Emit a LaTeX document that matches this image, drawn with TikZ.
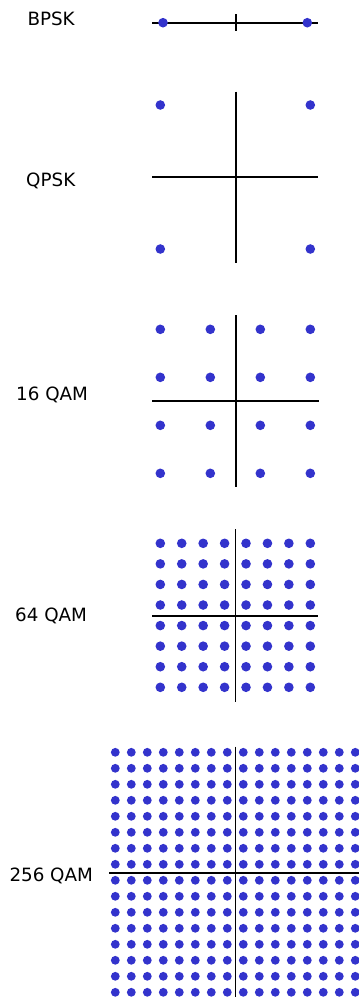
\documentclass[tikz,border=0pt]{standalone}
\usepackage{fontspec}
\setmainfont{DejaVu Sans}
\definecolor{dotblue}{HTML}{3333CC}
\begin{document}
\begin{tikzpicture}[x=1pt,y=-1pt,
  axis/.style={line width=1.8pt,black},
  pt/.style={fill=dotblue},
  lbl/.style={anchor=base west,inner sep=0pt,font=\fontsize{18.3}{22}\selectfont}]
\useasboundingbox (0,0) rectangle (359,997);
\clip (0,0) rectangle (359,997);
% labels
\node[lbl] (bpsk) at (27.3,25.7) {BPSK};
\node[lbl] (qpsk) at (26,186.3) {QPSK};
\node[lbl] (q16) at (16,400.8) {16 QAM};
\node[lbl] (q64) at (15,621.6) {64 QAM};
\node[lbl] (q256) at (9.3,881.2) {256 QAM};
% BPSK
\draw[axis] (152.3,22.7) -- (318.3,22.7);
\draw[axis] (235.7,14) -- (235.7,30.7);
\fill[pt] (163,22.7) circle (4.8);
\fill[pt] (307.3,22.7) circle (4.8);
% QPSK
\draw[axis] (152.3,177) -- (318.3,177);
\draw[axis] (235.7,91.7) -- (235.7,262.7);
\foreach \i in {160.3,310.3} \foreach \j in {105,249}
  \fill[pt] (\i,\j) circle (4.8);
% 16 QAM
\draw[axis] (152.3,401) -- (319,401);
\draw[axis] (235.7,315) -- (235.7,487.3);
\foreach \i in {0,...,3} \foreach \j in {0,...,3}
  \fill[pt] (160.3+50*\i,329.3+48*\j) circle (4.8);
% 64 QAM
\draw[axis] (152.3,615.7) -- (318.3,615.7);
\draw[axis] (235.5,529.3) -- (235.5,701.7);
\foreach \i in {0,...,7} \foreach \j in {0,...,7}
  \fill[pt] (160.3+21.43*\i,543.3+20.57*\j) circle (4.8);
% 256 QAM
\foreach \i in {0,...,15} \foreach \j in {0,...,15}
  \fill[pt] (115.3+16*\i,752.3+16*\j) circle (4.4);
\draw[axis] (109.3,873.3) -- (361.3,873.3);
\draw[axis] (235.4,746.7) -- (235.4,1000);
\end{tikzpicture}
\end{document}
